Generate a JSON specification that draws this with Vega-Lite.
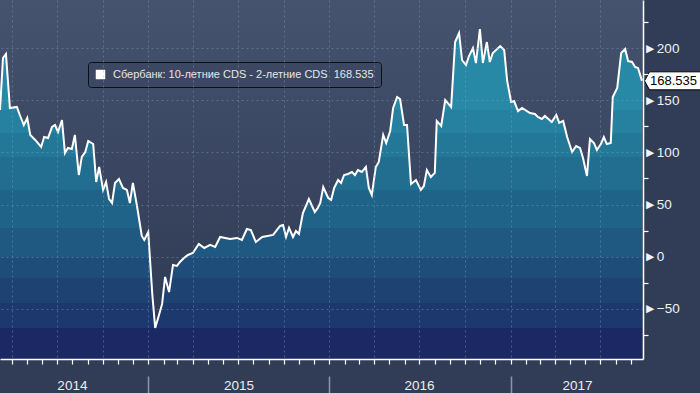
{
  "$schema": "https://vega.github.io/schema/vega-lite/v6.json",
  "width": 643,
  "height": 359,
  "autosize": {"type": "none"},
  "padding": {"left": 0, "top": 0, "right": 57, "bottom": 34},
  "background": "#313d57",
  "config": {"view": {"stroke": null}, "font": "Liberation Sans"},
  "datasets": {
    "cds": [
      {"date": "2014-03-08", "value": 140.6}, {"date": "2014-03-14", "value": 190.4}, {"date": "2014-03-20", "value": 194.3},
      {"date": "2014-03-28", "value": 142.5}, {"date": "2014-04-11", "value": 143.5}, {"date": "2014-04-17", "value": 135.8},
      {"date": "2014-04-25", "value": 126.2}, {"date": "2014-05-02", "value": 132.9}, {"date": "2014-05-08", "value": 116.7},
      {"date": "2014-05-18", "value": 111.9}, {"date": "2014-05-30", "value": 105.2}, {"date": "2014-06-05", "value": 114.7},
      {"date": "2014-06-13", "value": 113.8}, {"date": "2014-06-21", "value": 124.3}, {"date": "2014-06-27", "value": 126.2},
      {"date": "2014-07-03", "value": 119.5}, {"date": "2014-07-11", "value": 131.0}, {"date": "2014-07-17", "value": 99.4},
      {"date": "2014-07-23", "value": 104.2}, {"date": "2014-07-31", "value": 103.2}, {"date": "2014-08-06", "value": 116.7},
      {"date": "2014-08-14", "value": 78.3}, {"date": "2014-08-20", "value": 95.6}, {"date": "2014-08-27", "value": 100.4},
      {"date": "2014-09-02", "value": 110.9}, {"date": "2014-09-12", "value": 108.0}, {"date": "2014-09-18", "value": 71.6},
      {"date": "2014-09-24", "value": 86.0}, {"date": "2014-10-02", "value": 64.0}, {"date": "2014-10-08", "value": 71.6},
      {"date": "2014-10-14", "value": 55.3}, {"date": "2014-10-20", "value": 51.5}, {"date": "2014-10-26", "value": 70.7},
      {"date": "2014-11-03", "value": 74.5}, {"date": "2014-11-11", "value": 65.9}, {"date": "2014-11-19", "value": 64.0},
      {"date": "2014-11-25", "value": 51.5}, {"date": "2014-12-01", "value": 70.7}, {"date": "2014-12-09", "value": 49.6},
      {"date": "2014-12-19", "value": 19.9}, {"date": "2014-12-24", "value": 16.1}, {"date": "2015-01-01", "value": 23.7},
      {"date": "2015-01-09", "value": -34.7}, {"date": "2015-01-15", "value": -68.2}, {"date": "2015-01-21", "value": -58.7},
      {"date": "2015-01-29", "value": -45.2}, {"date": "2015-02-04", "value": -19.4}, {"date": "2015-02-12", "value": -33.8},
      {"date": "2015-02-20", "value": -7.9}, {"date": "2015-02-28", "value": -8.8}, {"date": "2015-03-06", "value": -5.0},
      {"date": "2015-03-14", "value": -1.2}, {"date": "2015-03-22", "value": 1.7}, {"date": "2015-04-01", "value": 3.6},
      {"date": "2015-04-13", "value": 12.2}, {"date": "2015-04-24", "value": 8.4}, {"date": "2015-05-06", "value": 11.3},
      {"date": "2015-05-16", "value": 9.4}, {"date": "2015-05-26", "value": 18.9}, {"date": "2015-06-15", "value": 17.0},
      {"date": "2015-06-29", "value": 18.0}, {"date": "2015-07-09", "value": 16.1}, {"date": "2015-07-19", "value": 26.6},
      {"date": "2015-07-27", "value": 25.6}, {"date": "2015-08-06", "value": 14.1}, {"date": "2015-08-19", "value": 18.9},
      {"date": "2015-09-10", "value": 20.9}, {"date": "2015-09-24", "value": 29.5}, {"date": "2015-09-30", "value": 30.4},
      {"date": "2015-10-06", "value": 18.9}, {"date": "2015-10-12", "value": 27.6}, {"date": "2015-10-20", "value": 18.9},
      {"date": "2015-10-26", "value": 24.7}, {"date": "2015-11-01", "value": 21.8}, {"date": "2015-11-09", "value": 41.9},
      {"date": "2015-11-21", "value": 55.3}, {"date": "2015-12-03", "value": 42.9}, {"date": "2015-12-09", "value": 46.7},
      {"date": "2015-12-14", "value": 51.5}, {"date": "2015-12-20", "value": 66.8}, {"date": "2015-12-30", "value": 56.3},
      {"date": "2016-01-05", "value": 54.4}, {"date": "2016-01-11", "value": 65.9}, {"date": "2016-01-19", "value": 73.5},
      {"date": "2016-01-25", "value": 70.7}, {"date": "2016-01-31", "value": 78.3}, {"date": "2016-02-08", "value": 79.3},
      {"date": "2016-02-16", "value": 81.2}, {"date": "2016-02-22", "value": 78.3}, {"date": "2016-02-28", "value": 83.1},
      {"date": "2016-03-07", "value": 81.2}, {"date": "2016-03-15", "value": 86.0}, {"date": "2016-03-21", "value": 65.9},
      {"date": "2016-03-27", "value": 59.2}, {"date": "2016-04-04", "value": 86.0}, {"date": "2016-04-10", "value": 90.8},
      {"date": "2016-04-19", "value": 116.7}, {"date": "2016-04-25", "value": 109.0}, {"date": "2016-05-03", "value": 120.5},
      {"date": "2016-05-09", "value": 142.5}, {"date": "2016-05-17", "value": 153.1}, {"date": "2016-05-23", "value": 151.1},
      {"date": "2016-05-31", "value": 126.2}, {"date": "2016-06-06", "value": 126.2}, {"date": "2016-06-14", "value": 69.7},
      {"date": "2016-06-24", "value": 73.5}, {"date": "2016-07-04", "value": 64.0}, {"date": "2016-07-10", "value": 67.8},
      {"date": "2016-07-16", "value": 83.1}, {"date": "2016-07-24", "value": 76.4}, {"date": "2016-08-01", "value": 80.3},
      {"date": "2016-08-05", "value": 130.1}, {"date": "2016-08-14", "value": 125.3}, {"date": "2016-08-22", "value": 150.2},
      {"date": "2016-09-03", "value": 143.5}, {"date": "2016-09-11", "value": 205.7}, {"date": "2016-09-19", "value": 214.4},
      {"date": "2016-09-25", "value": 188.5}, {"date": "2016-10-03", "value": 183.7}, {"date": "2016-10-09", "value": 192.3},
      {"date": "2016-10-17", "value": 200.0}, {"date": "2016-10-23", "value": 185.6}, {"date": "2016-10-31", "value": 218.2},
      {"date": "2016-11-06", "value": 185.6}, {"date": "2016-11-14", "value": 205.7}, {"date": "2016-11-20", "value": 186.6},
      {"date": "2016-11-26", "value": 195.2}, {"date": "2016-12-11", "value": 201.9}, {"date": "2016-12-19", "value": 198.1},
      {"date": "2016-12-25", "value": 168.4}, {"date": "2017-01-02", "value": 148.3}, {"date": "2017-01-08", "value": 149.2},
      {"date": "2017-01-16", "value": 139.6}, {"date": "2017-01-24", "value": 142.5}, {"date": "2017-02-09", "value": 137.7},
      {"date": "2017-02-19", "value": 136.8}, {"date": "2017-02-25", "value": 133.9}, {"date": "2017-03-05", "value": 132.0},
      {"date": "2017-03-11", "value": 134.9}, {"date": "2017-03-25", "value": 129.1}, {"date": "2017-04-03", "value": 135.8},
      {"date": "2017-04-09", "value": 128.2}, {"date": "2017-04-17", "value": 130.1}, {"date": "2017-04-25", "value": 114.7},
      {"date": "2017-05-05", "value": 100.4}, {"date": "2017-05-13", "value": 106.1}, {"date": "2017-05-21", "value": 104.2},
      {"date": "2017-05-27", "value": 94.6}, {"date": "2017-06-04", "value": 77.4}, {"date": "2017-06-10", "value": 112.8},
      {"date": "2017-06-18", "value": 109.0}, {"date": "2017-06-24", "value": 102.3}, {"date": "2017-07-02", "value": 108.0},
      {"date": "2017-07-08", "value": 114.7}, {"date": "2017-07-14", "value": 108.0}, {"date": "2017-07-22", "value": 109.0},
      {"date": "2017-07-26", "value": 153.1}, {"date": "2017-08-04", "value": 161.7}, {"date": "2017-08-12", "value": 195.2},
      {"date": "2017-08-20", "value": 199.0}, {"date": "2017-08-26", "value": 187.5}, {"date": "2017-09-03", "value": 186.6},
      {"date": "2017-09-09", "value": 181.8}, {"date": "2017-09-15", "value": 180.8}, {"date": "2017-09-23", "value": 168.535}
    ]
  },
  "layer": [
    {
      "data": {"values": [{}]},
      "mark": {
        "type": "rect",
        "color": {
          "gradient": "linear", "x1": 0, "y1": 0, "x2": 0, "y2": 1,
          "stops": [
            {"offset": 0, "color": "#46536e"},
            {"offset": 1, "color": "#2d3852"}
          ]
        }
      }
    },
    {
      "data": {"name": "cds"},
      "mark": {
        "type": "area",
        "color": {
          "gradient": "linear", "x1": 0, "y1": 0, "x2": 0, "y2": 1,
          "stops": [
            {"offset": 0, "color": "#2889a6"}, {"offset": 0.2455, "color": "#2889a6"},
            {"offset": 0.2455, "color": "#25819f"}, {"offset": 0.3152, "color": "#25819f"},
            {"offset": 0.3152, "color": "#237897"}, {"offset": 0.3879, "color": "#237897"},
            {"offset": 0.3879, "color": "#216e90"}, {"offset": 0.4879, "color": "#216e90"},
            {"offset": 0.4879, "color": "#1f6389"}, {"offset": 0.603, "color": "#1f6389"},
            {"offset": 0.603, "color": "#1f5881"}, {"offset": 0.6909, "color": "#1f5881"},
            {"offset": 0.6909, "color": "#1e4d7a"}, {"offset": 0.7545, "color": "#1e4d7a"},
            {"offset": 0.7545, "color": "#1e4373"}, {"offset": 0.8303, "color": "#1e4373"},
            {"offset": 0.8303, "color": "#1d386d"}, {"offset": 0.906, "color": "#1d386d"},
            {"offset": 0.906, "color": "#1b2864"}, {"offset": 1, "color": "#1b2864"}
          ]
        }
      },
      "encoding": {
        "x": {
          "field": "date", "type": "temporal",
          "scale": {"domain": [{"year": 2014, "month": 3, "date": 8}, {"year": 2017, "month": 9, "date": 25}]},
          "axis": {
            "orient": "bottom", "title": null, "labels": false,
            "domainColor": "#ffffff", "domainWidth": 1.5,
            "tickColor": "#ffffff", "tickSize": 5, "tickWidth": 1.2,
            "tickCount": {"interval": "month", "step": 1},
            "grid": true, "gridColor": "#86a6c8", "gridDash": [2, 3], "gridWidth": 1,
            "gridOpacity": {"condition": {"test": "month(datum.value) % 3 === 0", "value": 0.4}, "value": 0},
            "zindex": 1
          }
        },
        "y": {
          "field": "value", "type": "quantitative",
          "scale": {"domain": [-98, 246], "nice": false, "zero": false},
          "axis": {
            "orient": "right", "title": null,
            "values": [-75, -50, -25, 0, 25, 50, 75, 100, 125, 150, 175, 200, 225],
            "domainColor": "#ffffff", "domainWidth": 1.5,
            "tickColor": "#ffffff", "tickSize": 5, "tickWidth": 1.2,
            "tickOpacity": {"condition": {"test": "datum.value % 50 === 0", "value": 0}, "value": 1},
            "labelExpr": "datum.value % 50 === 0 ? '►' + datum.label : ''",
            "labelColor": "#f2f2f2", "labelFont": "Liberation Sans", "labelFontSize": 13.5,
            "labelPadding": -5,
            "grid": true, "gridColor": "#86a6c8", "gridDash": [2, 3], "gridWidth": 1,
            "gridOpacity": {"condition": {"test": "datum.value % 50 === 0", "value": 0.4}, "value": 0},
            "zindex": 1
          }
        },
        "y2": {"datum": -98}
      }
    },
    {
      "data": {"name": "cds"},
      "mark": {"type": "line", "strokeWidth": 2},
      "encoding": {
        "x": {
          "field": "date", "type": "temporal",
          "scale": {"domain": [{"year": 2014, "month": 3, "date": 8}, {"year": 2017, "month": 9, "date": 25}]},
          "axis": {
            "orient": "bottom", "title": null, "offset": 17, "domain": false, "grid": false,
            "values": [
              {"year": 2014, "month": 7, "date": 31},
              {"year": 2015, "month": 1, "date": 1},
              {"year": 2015, "month": 7, "date": 2},
              {"year": 2016, "month": 1, "date": 1},
              {"year": 2016, "month": 6, "date": 30},
              {"year": 2017, "month": 1, "date": 1},
              {"year": 2017, "month": 5, "date": 15}
            ],
            "tickColor": "#8d96a8", "tickSize": 17, "tickWidth": 1.5,
            "tickOpacity": {"condition": {"test": "month(datum.value) === 0 && date(datum.value) === 1", "value": 1}, "value": 0},
            "labelExpr": "month(datum.value) === 0 && date(datum.value) === 1 ? '' : timeFormat(datum.value, '%Y')",
            "labelPadding": -15, "labelColor": "#eeeeee", "labelFont": "Liberation Sans", "labelFontSize": 13.5,
            "labelFlush": false, "labelOverlap": false
          }
        },
        "y": {
          "field": "value", "type": "quantitative",
          "scale": {"domain": [-98, 246], "nice": false, "zero": false},
          "axis": null
        },
        "color": {
          "datum": "Сбербанк: 10-летние CDS - 2-летние CDS\u00a0\u00a0168.535",
          "type": "nominal",
          "scale": {"range": ["#ffffff"]},
          "legend": {
            "orient": "none", "legendX": 88, "legendY": 62, "title": null,
            "symbolType": "square", "symbolSize": 90,
            "symbolFillColor": "#ffffff", "symbolStrokeColor": "#ffffff", "symbolStrokeWidth": 0,
            "labelColor": "#e6e6e6", "labelFont": "Liberation Sans", "labelFontSize": 11, "labelLimit": 500, "labelOffset": 7,
            "padding": 7, "fillColor": "#3c4862", "strokeColor": "#0b0f18", "cornerRadius": 3
          }
        }
      }
    },
    {
      "data": {"values": [{"date": "2017-09-23", "value": 168.535, "label": "168.535"}]},
      "layer": [
        {
          "mark": {
            "type": "point",
            "shape": "M0.1,0L0.3,-0.36L2.4,-0.36L2.4,0.36L0.3,0.36Z",
            "size": 2500, "filled": true, "fill": "#ffffff", "stroke": "#000000", "strokeWidth": 1, "opacity": 1
          },
          "encoding": {
            "x": {"field": "date", "type": "temporal", "axis": null},
            "y": {"field": "value", "type": "quantitative", "axis": null}
          }
        },
        {
          "mark": {"type": "text", "align": "left", "baseline": "middle", "dx": 8, "fontSize": 13, "font": "Liberation Sans", "color": "#000000"},
          "encoding": {
            "x": {"field": "date", "type": "temporal", "axis": null},
            "y": {"field": "value", "type": "quantitative", "axis": null},
            "text": {"field": "label"}
          }
        }
      ]
    }
  ],
  "resolve": {"axis": {"x": "independent", "y": "independent"}}
}
